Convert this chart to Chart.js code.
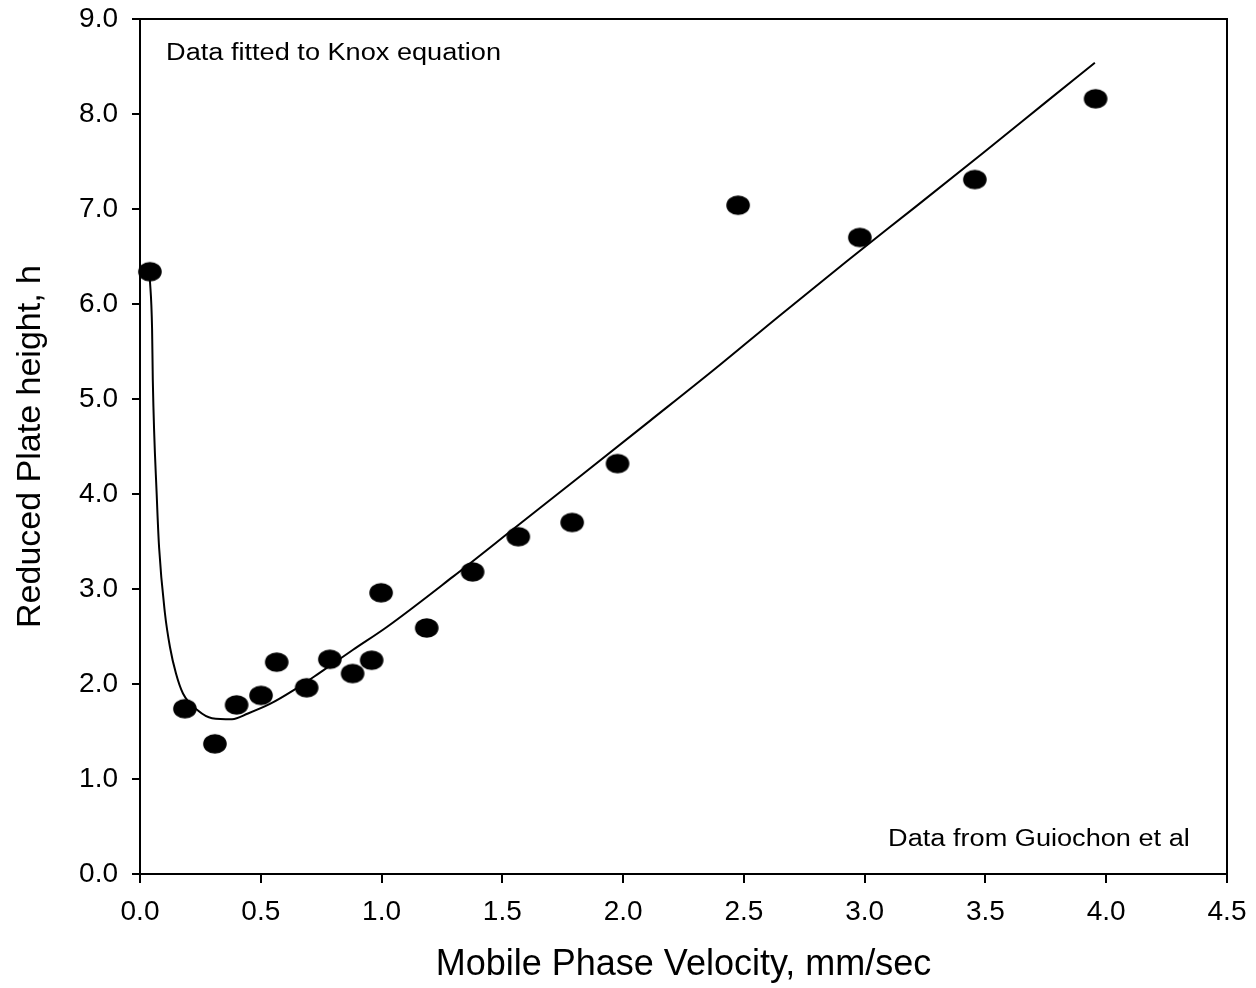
<!DOCTYPE html>
<html>
<head>
<meta charset="utf-8">
<script src="https://cdn.jsdelivr.net/npm/chart.js@4/dist/chart.umd.min.js"></script>
<style>
  html, body { margin: 0; padding: 0; background: #fff; }
  #wrap { width: 1256px; height: 988px; position: relative; }
</style>
</head>
<body>
<div id="wrap"><canvas id="c"></canvas></div>
<script>
// Measured data points (mobile phase velocity, reduced plate height)
const velocity = [0.041, 0.186, 0.310, 0.400, 0.501, 0.566, 0.690, 0.786, 0.880, 0.959, 0.998, 1.187, 1.377, 1.566, 1.789, 1.977, 2.476, 2.980, 3.456, 3.956];
const plateHeight = [6.34, 1.74, 1.37, 1.78, 1.88, 2.23, 1.96, 2.26, 2.11, 2.25, 2.96, 2.59, 3.18, 3.55, 3.70, 4.32, 7.04, 6.70, 7.31, 8.16];

// Fitted Knox curve
const fitVelocity = [0.040, 0.050, 0.053, 0.070, 0.079, 0.103, 0.124, 0.149, 0.178, 0.240, 0.298, 0.381, 0.447, 0.538, 0.633, 0.745, 0.882, 1.022, 1.296, 1.560, 1.834, 2.111, 2.372, 2.649, 2.926, 3.209, 3.490, 3.753, 3.953];
const fitHeight = [6.30, 5.74, 5.20, 3.94, 3.44, 2.75, 2.39, 2.11, 1.90, 1.72, 1.64, 1.63, 1.69, 1.79, 1.93, 2.12, 2.36, 2.60, 3.13, 3.66, 4.21, 4.77, 5.30, 5.88, 6.45, 7.02, 7.59, 8.13, 8.54];

// Axis ticks
const xTicks = [0, 0.5, 1.0, 1.5, 2.0, 2.5, 3.0, 3.5, 4.0, 4.5];
const yTicks = [0, 1, 2, 3, 4, 5, 6, 7, 8, 9];

const xTitle = 'Mobile Phase Velocity, mm/sec';
const yTitle = 'Reduced Plate height, h';
const noteTop = 'Data fitted to Knox equation';
const noteBottom = 'Data from Guiochon et al';

// ellipse marker
const dot = document.createElement('canvas');
dot.width = 26; dot.height = 22;
(function () {
  const g = dot.getContext('2d');
  g.fillStyle = '#000';
  g.beginPath();
  g.ellipse(13, 11, 11.8, 9.8, 0, 0, Math.PI * 2);
  g.fill();
})();

const FONT = "'Liberation Sans', Arial, sans-serif";

const framePlugin = {
  id: 'frame',
  beforeDatasetsDraw(chart) {
    const { ctx, chartArea: a } = chart;
    ctx.save();
    ctx.strokeStyle = '#000';
    ctx.lineWidth = 2;
    ctx.strokeRect(a.left, a.top, a.right - a.left, a.bottom - a.top);
    ctx.restore();
  },
  afterDraw(chart) {
    const { ctx } = chart;
    const xs = chart.scales.x, ys = chart.scales.y;
    ctx.save();
    ctx.fillStyle = '#000';
    ctx.font = '23px ' + FONT;
    ctx.textBaseline = 'alphabetic';
    const sx = 1.18;
    let px = xs.getPixelForValue(0.108), py = ys.getPixelForValue(8.57);
    ctx.save();
    ctx.translate(px, py); ctx.scale(sx, 1);
    ctx.textAlign = 'left';
    ctx.fillText(noteTop, 0, 0);
    ctx.restore();
    px = xs.getPixelForValue(4.346); py = ys.getPixelForValue(0.29);
    ctx.save();
    ctx.translate(px, py); ctx.scale(sx, 1);
    ctx.textAlign = 'right';
    ctx.fillText(noteBottom, 0, 0);
    ctx.restore();
    ctx.restore();
  }
};

new Chart(document.getElementById('c'), {
  type: 'scatter',
  data: {
    datasets: [
      {
        label: 'Knox fit',
        type: 'line',
        data: fitVelocity.map((v, i) => ({ x: v, y: fitHeight[i] })),
        borderColor: '#000',
        borderWidth: 2,
        pointRadius: 0,
        fill: false,
        cubicInterpolationMode: 'monotone',
        clip: false,
        order: 2
      },
      {
        label: 'Data',
        data: velocity.map((v, i) => ({ x: v, y: plateHeight[i] })),
        pointStyle: dot,
        pointRadius: 12,
        backgroundColor: '#000',
        borderColor: '#000',
        clip: false,
        order: 1
      }
    ]
  },
  options: {
    responsive: true,
    maintainAspectRatio: false,
    animation: false,
    devicePixelRatio: 1,
    layout: { padding: { top: 19, right: 29, left: 0, bottom: 0 } },
    plugins: { legend: { display: false }, tooltip: { enabled: false } },
    scales: {
      x: {
        type: 'linear',
        min: 0, max: 4.5,
        afterBuildTicks: (s) => { s.ticks = xTicks.map(v => ({ value: v })); },
        afterFit: (s) => { s.height = 114; s.paddingLeft = 0; s.paddingRight = 0; },
        ticks: {
          color: '#000',
          font: { family: FONT, size: 28 },
          padding: 12,
          maxRotation: 0,
          callback: (v) => Number(v).toFixed(1)
        },
        grid: { drawOnChartArea: false, drawTicks: true, tickLength: 9, color: '#000', lineWidth: 2 },
        border: { display: true, color: '#000', width: 2 },
        title: {
          display: true, text: xTitle, color: '#000',
          font: { family: FONT, size: 36 },
          padding: { top: 0, bottom: 1 }
        }
      },
      y: {
        type: 'linear',
        min: 0, max: 9,
        afterBuildTicks: (s) => { s.ticks = yTicks.map(v => ({ value: v })); },
        afterFit: (s) => { s.width = 140; s.paddingTop = 0; s.paddingBottom = 0; },
        ticks: {
          color: '#000',
          font: { family: FONT, size: 28 },
          padding: 14,
          callback: (v) => Number(v).toFixed(1)
        },
        grid: { drawOnChartArea: false, drawTicks: true, tickLength: 8, color: '#000', lineWidth: 2 },
        border: { display: true, color: '#000', width: 2 },
        title: {
          display: true, text: yTitle, color: '#000',
          font: { family: FONT, size: 34 },
          padding: { top: 10, bottom: 0 }
        }
      }
    }
  },
  plugins: [framePlugin]
});
</script>
</body>
</html>
